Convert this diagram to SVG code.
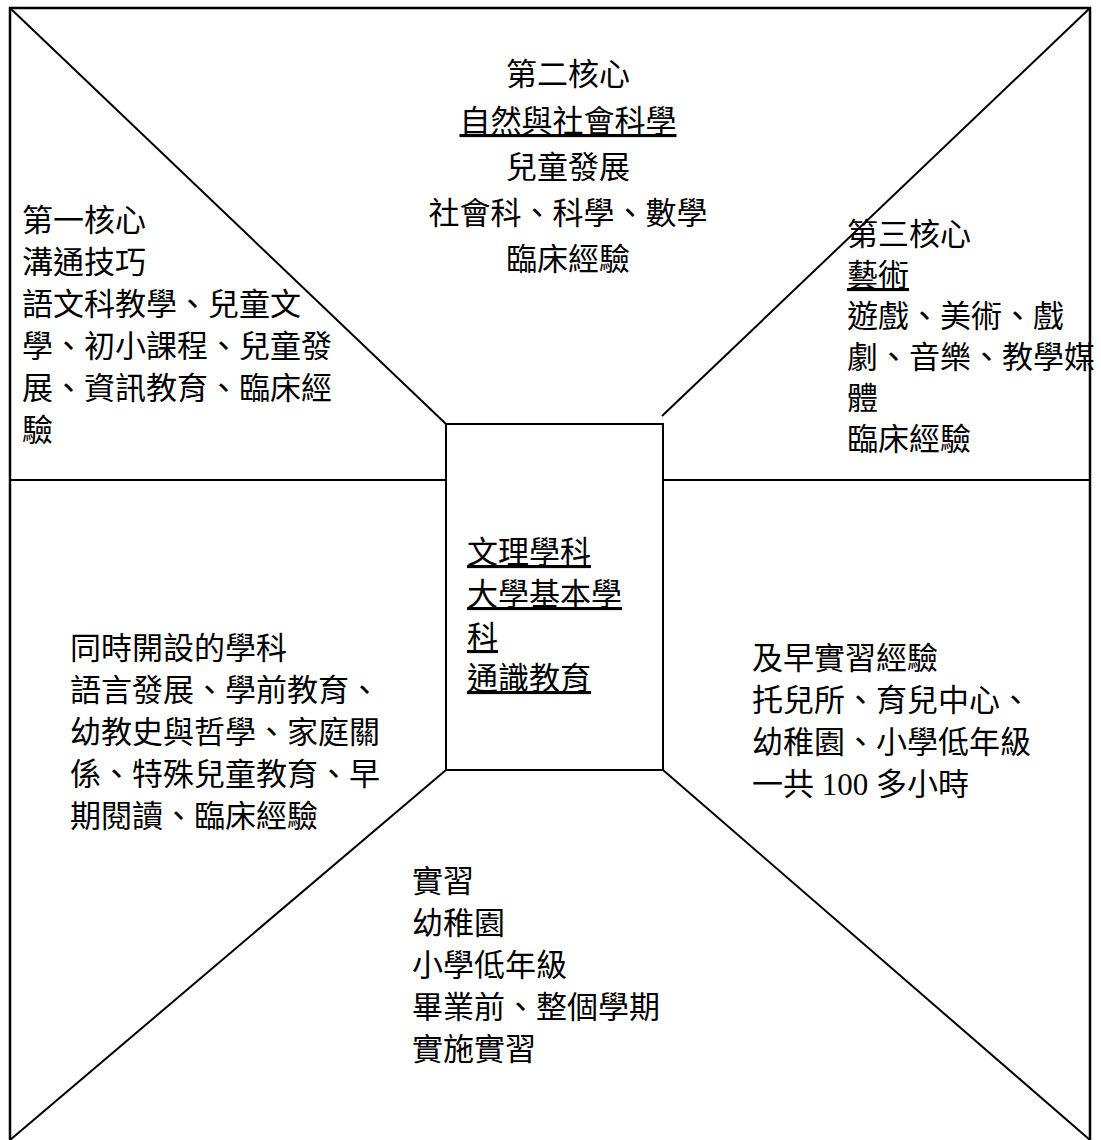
<svg xmlns="http://www.w3.org/2000/svg" width="1101" height="1140" viewBox="0 0 1101 1140">
<style>
.ln{stroke:#000;stroke-width:2;fill:none}
.frame{stroke:#000;stroke-width:2.5;fill:none}
text{font-family:"Liberation Serif","Noto Sans CJK TC",serif;font-size:31px;fill:#000}
.u{text-decoration:underline}
</style>
<rect x="0" y="0" width="1101" height="1140" fill="#fff"/>
<g id="connectors">
<rect class="frame" x="10" y="8" width="1080" height="1140"/>
<line class="ln" x1="10" y1="8" x2="446" y2="424"/>
<line class="ln" x1="1090" y1="8" x2="662" y2="416"/>
<line class="ln" x1="10" y1="480" x2="446" y2="480"/>
<line class="ln" x1="663" y1="480" x2="1090" y2="480"/>
<line class="ln" x1="446" y1="770" x2="10" y2="1140"/>
<line class="ln" x1="663" y1="770" x2="1090" y2="1140"/>
</g>
<g id="center">
<rect class="ln" x="446" y="424" width="217" height="346"/>
<text x="467" y="563" class="u">文理學科</text>
<text x="467" y="605" class="u">大學基本學</text>
<text x="467" y="648" class="u">科</text>
<text x="467" y="689" class="u">通識教育</text>
</g>
<g id="core2">
<text x="568" y="85" text-anchor="middle">第二核心</text>
<text x="568" y="132" text-anchor="middle" class="u">自然與社會科學</text>
<text x="568" y="178" text-anchor="middle">兒童發展</text>
<text x="568" y="224" text-anchor="middle">社會科、科學、數學</text>
<text x="568" y="270" text-anchor="middle">臨床經驗</text>
</g>
<g id="core1">
<text x="22" y="231">第一核心</text>
<text x="22" y="273">溝通技巧</text>
<text x="22" y="315">語文科教學、兒童文</text>
<text x="22" y="357">學、初小課程、兒童發</text>
<text x="22" y="399">展、資訊教育、臨床經</text>
<text x="22" y="441">驗</text>
</g>
<g id="core3">
<text x="847" y="245">第三核心</text>
<text x="847" y="286" class="u">藝術</text>
<text x="847" y="327">遊戲、美術、戲</text>
<text x="847" y="368">劇、音樂、教學媒</text>
<text x="847" y="409">體</text>
<text x="847" y="450">臨床經驗</text>
</g>
<g id="concurrent">
<text x="70" y="659">同時開設的學科</text>
<text x="70" y="701">語言發展、學前教育、</text>
<text x="70" y="743">幼教史與哲學、家庭關</text>
<text x="70" y="785">係、特殊兒童教育、早</text>
<text x="70" y="827">期閱讀、臨床經驗</text>
</g>
<g id="early">
<text x="752" y="669">及早實習經驗</text>
<text x="752" y="711">托兒所、育兒中心、</text>
<text x="752" y="753">幼稚園、小學低年級</text>
<text x="752" y="795">一共 100 多小時</text>
</g>
<g id="practicum">
<text x="412" y="892">實習</text>
<text x="412" y="934">幼稚園</text>
<text x="412" y="976">小學低年級</text>
<text x="412" y="1018">畢業前、整個學期</text>
<text x="412" y="1060">實施實習</text>
</g>
</svg>
